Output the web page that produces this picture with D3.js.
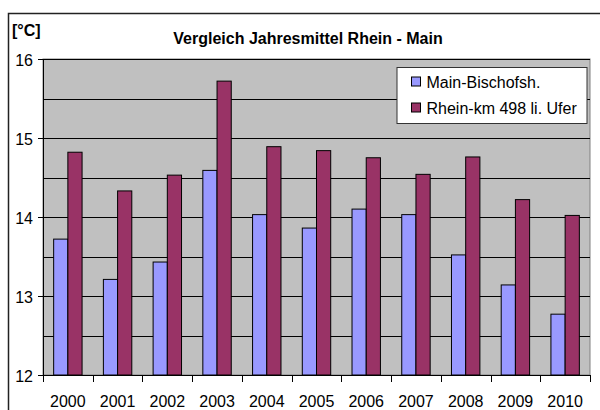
<!DOCTYPE html>
<html>
<head>
<meta charset="utf-8">
<script src="https://cdn.jsdelivr.net/npm/d3@7"></script>
<style>
	body { margin: 0; background: #fff; }
	svg { display: block; font-family: "Liberation Sans", Arial, sans-serif; }
</style>
</head>
<body>
<svg id="chart" width="600" height="410"></svg>
<script>
"use strict";

// data
var years = ["2000","2001","2002","2003","2004","2005","2006","2007","2008","2009","2010"];
var seriesNames = ["Main-Bischofsh.", "Rhein-km 498 li. Ufer"];
var mainValues = [13.72, 13.21, 13.43, 14.59, 14.03, 13.86, 14.10, 14.03, 13.52, 13.14, 12.77];
var rheinValues = [14.82, 14.33, 14.53, 15.72, 14.89, 14.84, 14.75, 14.54, 14.76, 14.22, 14.02];
var colors = ["#9999ff", "#993366"];
var yTicks = [12, 13, 14, 15, 16];
var yGrid = [12.5, 13, 13.5, 14, 14.5, 15, 15.5, 16];

var svg = d3.select("#chart");

var plot = {left: 43, right: 590, top: 59, bottom: 375};

var x0 = d3.scaleBand().domain(years).range([plot.left, plot.right]).padding(0);
var x1 = d3.scaleBand().domain(seriesNames).range([0, x0.bandwidth()])
	.paddingInner(0).paddingOuter(0.75);
var y = d3.scaleLinear().domain([12, 16]).range([plot.bottom, plot.top]);

// outer chart frame
svg.append("rect")
	.attr("x", 8.5).attr("y", 13.5)
	.attr("width", 700).attr("height", 500)
	.attr("fill", "none").attr("stroke", "#222").attr("stroke-width", 1.5);

// plot area
svg.append("rect")
	.attr("x", plot.left).attr("y", plot.top)
	.attr("width", plot.right - plot.left).attr("height", plot.bottom - plot.top)
	.attr("fill", "#c0c0c0").attr("stroke", "#808080").attr("stroke-width", 1);

// gridlines
svg.append("g").selectAll("line")
	.data(yGrid)
  .enter().append("line")
	.attr("x1", plot.left).attr("x2", plot.right)
	.attr("y1", function(d){ return Math.round(y(d)) + 0.5; })
	.attr("y2", function(d){ return Math.round(y(d)) + 0.5; })
	.attr("stroke", "#000").attr("stroke-width", 1);

// bars
var rows = years.map(function(yr, i){
	return [
		{year: yr, name: seriesNames[0], value: mainValues[i], color: colors[0]},
		{year: yr, name: seriesNames[1], value: rheinValues[i], color: colors[1]}
	];
});

svg.append("g").selectAll("g")
	.data(rows)
  .enter().append("g")
	.attr("transform", function(d){ return "translate(" + x0(d[0].year) + ",0)"; })
  .selectAll("rect")
	.data(function(d){ return d; })
  .enter().append("rect")
	.attr("x", function(d){ return x1(d.name); })
	.attr("y", function(d){ return y(d.value); })
	.attr("width", x1.bandwidth())
	.attr("height", function(d){ return y(12) - y(d.value); })
	.attr("fill", function(d){ return d.color; })
	.attr("stroke", "#000").attr("stroke-width", 1);

// y axis
var yAxis = d3.axisLeft(y).tickValues(yTicks).tickSize(5).tickPadding(5)
	.tickFormat(d3.format("d"));
var gy = svg.append("g")
	.attr("transform", "translate(" + plot.left + ",0)")
	.call(yAxis);
gy.select(".domain").attr("stroke", "#000");
gy.selectAll(".tick line").attr("stroke", "#000");
gy.selectAll(".tick text")
	.attr("font-size", 16).attr("fill", "#000").attr("dy", "0.38em")
	.style("font-family", "'Liberation Sans', Arial, sans-serif");

// x axis: ticks at category edges, labels at centres
var xAxisG = svg.append("g").attr("transform", "translate(0," + plot.bottom + ")");
xAxisG.append("line")
	.attr("x1", plot.left).attr("x2", plot.right)
	.attr("y1", 0.5).attr("y2", 0.5)
	.attr("stroke", "#000");
var edges = years.map(function(d){ return x0(d); }).concat([plot.right]);
xAxisG.selectAll(".edge")
	.data(edges)
  .enter().append("line")
	.attr("class", "edge")
	.attr("x1", function(d){ return Math.round(d) + 0.5; })
	.attr("x2", function(d){ return Math.round(d) + 0.5; })
	.attr("y1", 0).attr("y2", 7)
	.attr("stroke", "#000");
xAxisG.selectAll(".lbl")
	.data(years)
  .enter().append("text")
	.attr("class", "lbl")
	.attr("x", function(d){ return x0(d) + x0.bandwidth() / 2; })
	.attr("y", 32)
	.attr("text-anchor", "middle")
	.attr("font-size", 16)
	.text(function(d){ return d; });

// title and unit
svg.append("text")
	.attr("x", 308).attr("y", 44)
	.attr("text-anchor", "middle")
	.attr("font-size", 16).attr("font-weight", "bold")
	.text("Vergleich Jahresmittel Rhein - Main");
svg.append("text")
	.attr("x", 12).attr("y", 36)
	.attr("font-size", 16).attr("font-weight", "bold")
	.text("[°C]");

// legend
var legend = svg.append("g").attr("transform", "translate(397,67.5)");
legend.append("rect")
	.attr("x", 0).attr("y", 0).attr("width", 190).attr("height", 56)
	.attr("fill", "#fff").attr("stroke", "#333").attr("stroke-width", 1);
var item = legend.selectAll(".item")
	.data(seriesNames)
  .enter().append("g")
	.attr("class", "item")
	.attr("transform", function(d, i){ return "translate(14.5," + (9.5 + i * 26) + ")"; });
item.append("rect")
	.attr("width", 9).attr("height", 9)
	.attr("fill", function(d, i){ return colors[i]; })
	.attr("stroke", "#000").attr("stroke-width", 1);
item.append("text")
	.attr("x", 15).attr("y", 11)
	.attr("font-size", 16)
	.text(function(d){ return d; });
</script>
</body>
</html>
